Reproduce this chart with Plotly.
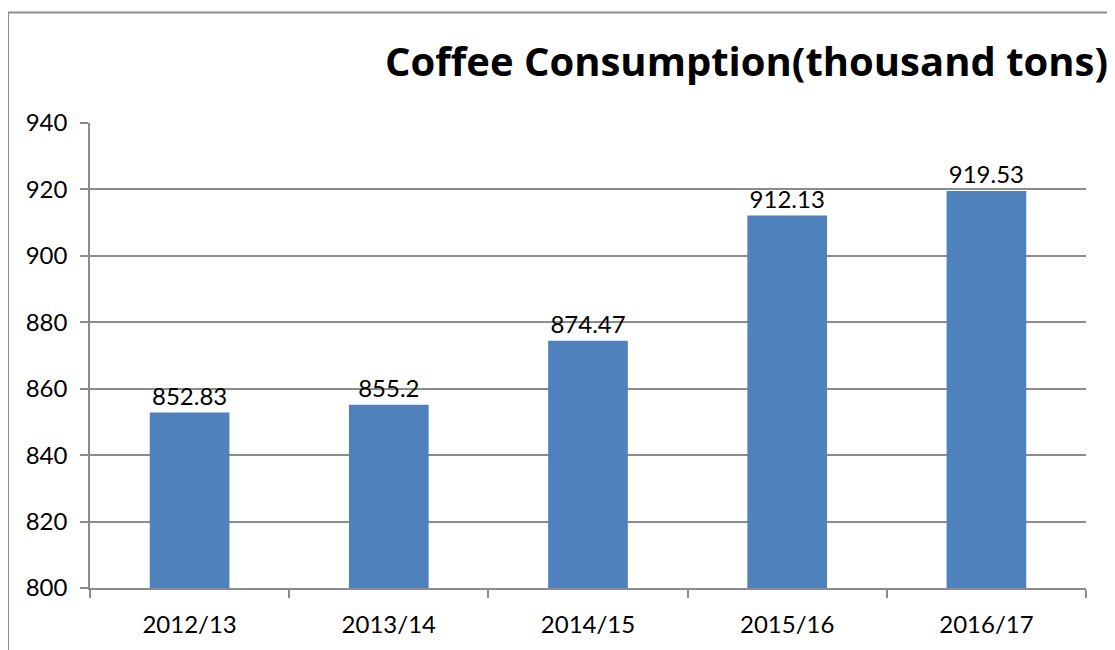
import plotly.graph_objects as go

categories = ["2012/13", "2013/14", "2014/15", "2015/16", "2016/17"]
values = [852.83, 855.2, 874.47, 912.13, 919.53]
labels = ["852.83", "855.2", "874.47", "912.13", "919.53"]
y_ticks = [800, 820, 840, 860, 880, 900, 920, 940]

# page body has an 8px margin, so the figure is drawn offset by 8px
OFF = 8
W, H = 1107, 642
L, T = 90 - OFF, 123 - OFF
R = W - (1086 - OFF)
B = H - 586
pw, ph = W - L - R, H - T - B

def px_x(x):
    return (x - OFF - L) / pw

def px_y(y):
    return (H - B - (y - OFF)) / ph

font = "Lato, 'Open Sans', sans-serif"
title_font = "'Open Sans', Lato, sans-serif"
grid = "#8c8c8c"

fig = go.Figure(go.Bar(
    x=categories, y=values, text=labels,
    textposition="outside", cliponaxis=False,
    textfont=dict(family=font, size=24, color="#000000"),
    marker=dict(color="#4F81BD", line=dict(width=0)),
    width=0.4,
))

fig.update_layout(
    width=W, height=H,
    margin=dict(l=L, r=R, t=T, b=B),
    paper_bgcolor="white", plot_bgcolor="white",
    showlegend=False,
    title=dict(text="<b>Coffee Consumption(thousand tons)</b>",
               font=dict(family=title_font, size=40, color="#000000"),
               x=(1108 - OFF) / W, xref="container", xanchor="right",
               y=1 - (62 - OFF) / H, yref="container", yanchor="middle"),
    xaxis=dict(showline=True, linecolor=grid, linewidth=1.5,
               ticks="outside", tickson="boundaries", ticklen=8,
               tickcolor=grid, tickwidth=1.5,
               tickfont=dict(family=font, size=24, color="#000000"),
               ticklabelstandoff=14, showgrid=False),
    yaxis=dict(range=[800, 940], tickvals=y_ticks,
               showline=True, linecolor=grid, linewidth=1.5,
               ticks="outside", ticklen=8, tickcolor=grid, tickwidth=1.5,
               showgrid=True, gridcolor=grid, gridwidth=1.5,
               tickfont=dict(family=font, size=24, color="#000000"),
               ticklabelstandoff=8, zeroline=False),
    shapes=[dict(type="rect", xref="paper", yref="paper",
                 x0=px_x(8), x1=px_x(1114), y0=px_y(700), y1=px_y(11),
                 line=dict(color="#8c8c8c", width=2), fillcolor="rgba(0,0,0,0)",
                 layer="below")],
)

fig.write_html("out.html")
